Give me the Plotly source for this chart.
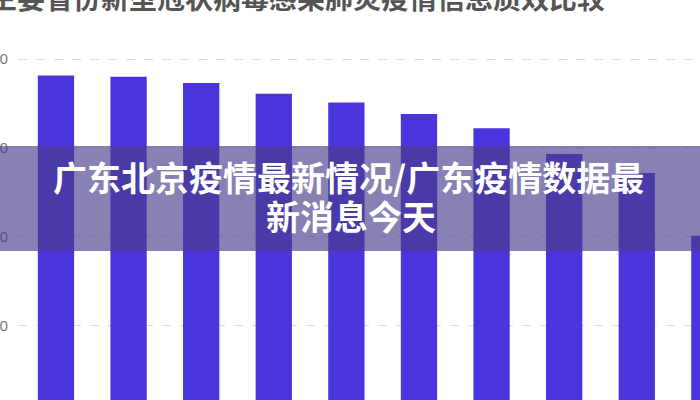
import plotly.graph_objects as go

categories = ["1", "2", "3", "4", "5", "6", "7", "8", "9", "10"]
values = [76.3, 76.0, 74.6, 72.2, 70.2, 67.6, 64.4, 58.6, 54.3, 40.2]
tick_vals = [0, 20, 40, 60, 80]
title_text = "主要省份新型冠状病毒感染肺炎疫情信息质效比较"
banner_line1 = "广东北京疫情最新情况/广东疫情数据最"
banner_line2 = "新消息今天"

W, H = 700, 400
L, R, T, B = 18, 0, 40, 0
PW, PH = W - L - R, H - T - B

def px_x(p):
    return (p - L) / PW

def px_y(p):
    return 1 - (p - T) / PH

fig = go.Figure()
fig.add_trace(go.Bar(
    x=categories, y=values,
    marker=dict(color="#4a34dc", line=dict(width=0)),
))

fig.update_layout(
    width=W, height=H,
    margin=dict(l=L, r=R, t=T, b=B, autoexpand=False),
    paper_bgcolor="white", plot_bgcolor="white",
    bargap=0.5, showlegend=False,
    font=dict(family="Noto Sans CJK SC, Noto Sans, sans-serif"),
    xaxis=dict(range=[-0.523, 8.871], showticklabels=False, showgrid=False,
               zeroline=False, showline=False, ticks="", automargin=False),
    yaxis=dict(range=[3.16, 84.3], tickvals=tick_vals, showgrid=True,
               gridcolor="#dcdcdc", griddash="dash", gridwidth=1,
               zeroline=False, showline=False, ticks="", automargin=False,
               ticklabelstandoff=9,
               tickfont=dict(size=15, color="#777", family="Noto Sans")),
    shapes=[dict(type="rect", xref="paper", yref="paper",
                 x0=px_x(-5), x1=px_x(705), y0=px_y(251), y1=px_y(146),
                 fillcolor="rgba(72,62,140,0.65)", line=dict(width=0),
                 layer="above")],
    annotations=[
        dict(text="<b>" + title_text + "</b>", xref="paper", yref="paper",
             x=px_x(607), y=px_y(-3), xanchor="right", yanchor="middle",
             showarrow=False, font=dict(size=28, color="#555")),
        dict(text="<b>" + banner_line1 + "</b>", xref="paper", yref="paper",
             x=px_x(348), y=px_y(176), xanchor="center", yanchor="middle",
             showarrow=False, font=dict(size=34, color="white")),
        dict(text="<b>" + banner_line2 + "</b>", xref="paper", yref="paper",
             x=px_x(351), y=px_y(215), xanchor="center", yanchor="middle",
             showarrow=False, font=dict(size=34, color="white")),
    ],
)

fig.write_html("out.html", config={"displayModeBar": False},
               post_script="document.body.style.margin='0';")
